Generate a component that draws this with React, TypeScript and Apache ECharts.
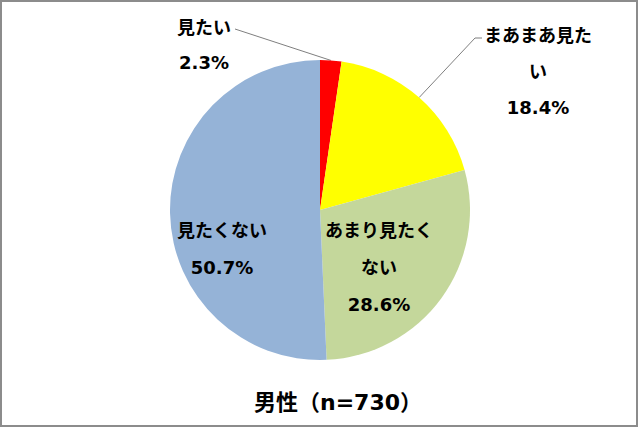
import React, { useEffect, useRef } from 'react';
import * as echarts from 'echarts';

const categories = ['見たい', 'まあまあ見たい', 'あまり見たくない', '見たくない'];
const labelNames = ['見たい', 'まあまあ見た\nい', 'あまり見たく\nない', '見たくない'];
const values = [2.3, 18.4, 28.6, 50.7];
const colors = ['#FF0000', '#FFFF00', '#C4D79B', '#95B3D7'];
const titleText = '男性（n=730）';

const CX = 320;
const CY = 210;
const R = 150;
const FONT = '"DejaVu Sans", "Noto Sans CJK JP", sans-serif';
const labelCenters: number[][] = [[204, 45], [538, 71], [379, 267], [222, 249]];
const labelLineHeights = [35, 36, 37, 37];
const lineTails: (number[][] | null)[] = [[[235, 29]], [[475, 38], [482, 38]], null, null];

function edgePoint(i: number): number[] {
  const total = values.reduce((a, b) => a + b, 0);
  let cum = 0;
  for (let k = 0; k < i; k++) cum += values[k];
  const f = (cum + values[i] / 2) / total;
  const t = f * Math.PI * 2;
  return [CX + R * Math.sin(t), CY - R * Math.cos(t)];
}

export default function App() {
  const ref = useRef<HTMLDivElement>(null);
  useEffect(() => {
    document.body.style.margin = '0';
    if (!ref.current) return;
    const chart = echarts.init(ref.current, undefined, { renderer: 'svg' });
    chart.setOption({
      animation: false,
      backgroundColor: '#FFFFFF',
      graphic: [
        {
          type: 'rect',
          shape: { x: 1, y: 1, width: 636, height: 425 },
          style: { fill: 'none', stroke: '#8C8C8C', lineWidth: 2 },
          silent: true,
        },
        {
          type: 'text',
          x: 338,
          y: 402,
          style: {
            text: titleText,
            fill: '#000000',
            font: `bold 22px ${FONT}`,
            align: 'center',
            verticalAlign: 'middle',
          },
          silent: true,
        },
      ],
      series: [
        {
          type: 'pie',
          center: [CX, CY],
          radius: R,
          startAngle: 90,
          clockwise: true,
          avoidLabelOverlap: false,
          silent: true,
          emphasis: { disabled: true },
          itemStyle: { borderWidth: 0 },
          labelLine: { lineStyle: { color: '#7F7F7F', width: 1 } },
          data: categories.map((c, i) => ({
            name: c,
            value: values[i],
            itemStyle: { color: colors[i] },
            label: {
              show: true,
              position: i < 2 ? 'outside' : 'inside',
              formatter: () => `${labelNames[i]}\n${values[i].toFixed(1)}%`,
              color: '#000000',
              fontSize: 18,
              fontWeight: 'bold',
              fontFamily: FONT,
              lineHeight: labelLineHeights[i],
              align: 'center',
            },
            labelLine: { show: i < 2 },
          })),
          labelLayout: (params: any) => {
            const i = params.dataIndex;
            const res: any = {
              x: labelCenters[i][0],
              y: labelCenters[i][1],
              align: 'center',
              verticalAlign: 'middle',
            };
            const tail = lineTails[i];
            if (tail) res.labelLinePoints = [edgePoint(i), ...tail];
            return res;
          },
        },
      ],
    });
    return () => chart.dispose();
  }, []);
  return <div ref={ref} style={{ width: 640, height: 428 }} />;
}
